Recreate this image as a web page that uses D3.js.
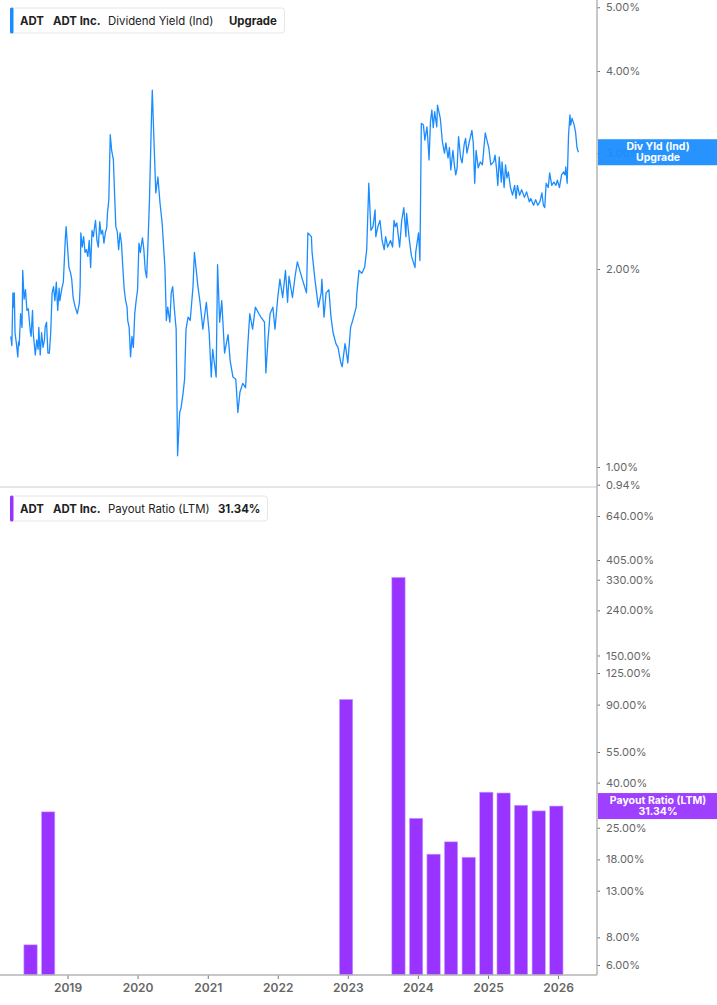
<!DOCTYPE html>
<html>
<head>
<meta charset="utf-8">
<script src="https://cdn.jsdelivr.net/npm/d3@7"></script>
<style>
  body { margin: 0; background: #fff; font-family: Inter, "Noto Sans", sans-serif; }
  svg { display: block; }
</style>
</head>
<body>
<script>
// Dividend yield (Ind) in %, as [decimal year, value], split by period
var yield2018 = [
  [2018.19, 1.58], [2018.205, 1.53], [2018.22, 1.84], [2018.23, 1.75], [2018.24, 1.84], [2018.25, 1.60],
  [2018.27, 1.54], [2018.29, 1.47], [2018.30, 1.55], [2018.31, 1.53], [2018.33, 1.71], [2018.35, 1.63],
  [2018.36, 1.99], [2018.38, 1.80], [2018.40, 1.86], [2018.42, 1.73], [2018.44, 1.74], [2018.47, 1.60],
  [2018.48, 1.58], [2018.50, 1.73], [2018.51, 1.60], [2018.54, 1.48], [2018.56, 1.56], [2018.58, 1.51],
  [2018.59, 1.63], [2018.61, 1.48], [2018.63, 1.60], [2018.65, 1.52], [2018.67, 1.56], [2018.68, 1.63],
  [2018.70, 1.66], [2018.72, 1.49], [2018.74, 1.49], [2018.76, 1.60], [2018.78, 1.84], [2018.80, 1.88],
  [2018.82, 1.79], [2018.84, 1.91], [2018.86, 1.73], [2018.88, 1.87], [2018.89, 1.79], [2018.92, 1.87],
  [2018.94, 1.91], [2018.97, 2.24], [2018.98, 2.32]
];
var yield2019 = [
  [2019.00, 2.16], [2019.02, 2.01], [2019.04, 1.98], [2019.06, 1.93], [2019.08, 1.81], [2019.11, 1.75],
  [2019.14, 1.71], [2019.17, 1.78], [2019.18, 1.88], [2019.19, 2.27], [2019.21, 2.16], [2019.23, 2.24],
  [2019.25, 2.12], [2019.27, 2.14], [2019.29, 2.09], [2019.31, 2.21], [2019.33, 2.01], [2019.35, 2.29],
  [2019.37, 2.24], [2019.38, 2.29], [2019.40, 2.37], [2019.42, 2.21], [2019.44, 2.16], [2019.46, 2.36],
  [2019.48, 2.26], [2019.50, 2.29], [2019.52, 2.19], [2019.54, 2.27], [2019.56, 2.31], [2019.57, 2.43],
  [2019.59, 2.55], [2019.61, 3.20], [2019.63, 3.03], [2019.655, 2.93], [2019.675, 2.55], [2019.69, 2.32],
  [2019.71, 2.28], [2019.73, 2.14], [2019.75, 2.27], [2019.77, 2.19], [2019.79, 2.01], [2019.81, 1.86],
  [2019.83, 1.79], [2019.85, 1.75], [2019.86, 1.67], [2019.88, 1.63], [2019.90, 1.47], [2019.92, 1.58],
  [2019.94, 1.52], [2019.96, 1.71], [2019.98, 1.79]
];
var yield2020 = [
  [2020.00, 1.86], [2020.02, 2.19], [2020.04, 2.12], [2020.05, 2.16], [2020.07, 2.23], [2020.09, 2.14],
  [2020.11, 1.99], [2020.13, 1.94], [2020.15, 2.21], [2020.17, 2.55], [2020.20, 3.45], [2020.21, 3.74],
  [2020.23, 3.22], [2020.26, 2.61], [2020.29, 2.76], [2020.32, 2.52], [2020.35, 2.35], [2020.39, 2.01],
  [2020.41, 1.67], [2020.43, 1.75], [2020.46, 1.66], [2020.48, 1.84], [2020.50, 1.88], [2020.53, 1.71],
  [2020.55, 1.62], [2020.57, 1.04], [2020.60, 1.21], [2020.62, 1.23], [2020.65, 1.30], [2020.67, 1.36],
  [2020.69, 1.62], [2020.72, 1.69], [2020.75, 1.67], [2020.79, 1.88], [2020.81, 2.12], [2020.86, 1.88],
  [2020.89, 1.78], [2020.93, 1.62], [2020.98, 1.78]
];
var yield2021 = [
  [2021.02, 1.60], [2021.05, 1.37], [2021.07, 1.51], [2021.12, 1.37], [2021.14, 2.03], [2021.17, 1.66],
  [2021.20, 1.79], [2021.24, 1.49], [2021.29, 1.59], [2021.32, 1.45], [2021.36, 1.37], [2021.40, 1.36],
  [2021.43, 1.21], [2021.46, 1.30], [2021.50, 1.34], [2021.54, 1.32], [2021.57, 1.52], [2021.60, 1.71],
  [2021.64, 1.62], [2021.68, 1.75], [2021.73, 1.71], [2021.76, 1.69], [2021.81, 1.66], [2021.83, 1.39],
  [2021.86, 1.56], [2021.89, 1.71], [2021.93, 1.75], [2021.96, 1.62]
];
var yield2022 = [
  [2022.00, 1.81], [2022.03, 1.93], [2022.07, 1.81], [2022.11, 1.99], [2022.14, 1.78], [2022.16, 1.95],
  [2022.21, 1.81], [2022.25, 1.96], [2022.28, 2.05], [2022.35, 1.93], [2022.41, 1.84], [2022.43, 2.27],
  [2022.48, 2.24], [2022.49, 2.12], [2022.53, 1.93], [2022.58, 1.75], [2022.62, 1.84], [2022.63, 1.93],
  [2022.66, 1.69], [2022.69, 1.84], [2022.73, 1.86], [2022.76, 1.69], [2022.79, 1.60], [2022.83, 1.54],
  [2022.86, 1.52], [2022.90, 1.44], [2022.92, 1.42], [2022.96, 1.54], [2022.97, 1.52]
];
var yield2023 = [
  [2023.00, 1.44], [2023.04, 1.63], [2023.07, 1.67], [2023.12, 1.75], [2023.13, 1.84], [2023.16, 1.99],
  [2023.20, 1.97], [2023.24, 2.01], [2023.27, 2.14], [2023.30, 2.70], [2023.33, 2.29], [2023.36, 2.32],
  [2023.39, 2.46], [2023.40, 2.24], [2023.43, 2.32], [2023.46, 2.37], [2023.49, 2.21], [2023.52, 2.14],
  [2023.54, 2.24], [2023.57, 2.16], [2023.61, 2.21], [2023.64, 2.16], [2023.66, 2.37], [2023.68, 2.32],
  [2023.70, 2.35], [2023.74, 2.16], [2023.77, 2.37], [2023.80, 2.48], [2023.83, 2.24], [2023.84, 2.43],
  [2023.88, 2.21], [2023.91, 2.09], [2023.96, 2.01], [2023.97, 2.12]
];
var yield2024 = [
  [2024.01, 2.27], [2024.03, 2.06], [2024.05, 3.33], [2024.08, 3.31], [2024.10, 3.14], [2024.13, 3.29],
  [2024.15, 3.06], [2024.16, 2.93], [2024.18, 3.35], [2024.20, 3.49], [2024.22, 3.28], [2024.24, 3.47],
  [2024.27, 3.29], [2024.28, 3.55], [2024.32, 3.39], [2024.35, 3.12], [2024.38, 3.00], [2024.40, 3.11],
  [2024.43, 2.95], [2024.45, 3.06], [2024.47, 2.83], [2024.50, 3.03], [2024.52, 2.88], [2024.54, 2.78],
  [2024.56, 2.85], [2024.58, 3.18], [2024.61, 2.95], [2024.63, 2.90], [2024.66, 3.09], [2024.68, 3.16],
  [2024.70, 3.00], [2024.73, 3.11], [2024.77, 3.25], [2024.79, 3.11], [2024.81, 2.70], [2024.83, 3.03],
  [2024.86, 2.85], [2024.89, 2.91], [2024.92, 2.88], [2024.96, 3.22], [2024.99, 3.12]
];
var yield2025 = [
  [2025.01, 3.06], [2025.04, 2.88], [2025.08, 2.91], [2025.10, 2.98], [2025.12, 2.85], [2025.14, 2.68],
  [2025.16, 2.96], [2025.19, 2.71], [2025.20, 2.91], [2025.23, 2.66], [2025.25, 2.88], [2025.27, 2.75],
  [2025.29, 2.81], [2025.32, 2.66], [2025.35, 2.59], [2025.38, 2.68], [2025.40, 2.56], [2025.42, 2.68],
  [2025.45, 2.59], [2025.48, 2.64], [2025.52, 2.57], [2025.55, 2.62], [2025.59, 2.53], [2025.61, 2.56],
  [2025.65, 2.50], [2025.68, 2.55], [2025.71, 2.50], [2025.74, 2.53], [2025.77, 2.61], [2025.79, 2.50],
  [2025.81, 2.48], [2025.83, 2.70], [2025.86, 2.66], [2025.88, 2.80], [2025.91, 2.68], [2025.94, 2.71],
  [2025.97, 2.68], [2025.99, 2.73]
];
var yield2026 = [
  [2026.02, 2.66], [2026.05, 2.78], [2026.08, 2.81], [2026.10, 2.78], [2026.11, 2.86], [2026.13, 2.70],
  [2026.15, 3.20], [2026.17, 3.43], [2026.18, 3.31], [2026.20, 3.39], [2026.23, 3.31], [2026.25, 3.23],
  [2026.27, 3.06], [2026.29, 3.01]
];

// Payout ratio (LTM), in %, by fiscal quarter end
var payoutDates = [
  "2018-06-30", "2018-09-30", "2022-12-31", "2023-09-30", "2023-12-31", "2024-03-31",
  "2024-06-30", "2024-09-30", "2024-12-31", "2025-03-31", "2025-06-30", "2025-09-30", "2025-12-31"
];
var payoutValues = [7.4, 29.5, 95, 338, 27.6, 19.0, 21.6, 18.4, 36.2, 35.9, 31.6, 29.8, 31.34];

var yieldTicks = [0.94, 1, 2, 3, 4, 5];
var payoutTicks = [6, 8, 13, 18, 25, 40, 55, 90, 125, 150, 240, 330, 405, 640];
var yearTicks = [2019, 2020, 2021, 2022, 2023, 2024, 2025, 2026];

var width = 717, height = 1005;
var plotRight = 597;
var topPanel = {top: 0, bottom: 487};
var botPanel = {top: 488, bottom: 975};
var blue = "#1a8cff", purple = "#9933ff";

function fromDecimalYear(t) {
  var y = Math.floor(t);
  var start = new Date(y, 0, 1), end = new Date(y + 1, 0, 1);
  return new Date(+start + (t - y) * (end - start));
}
var parseDate = d3.timeParse("%Y-%m-%d");

var yieldData = [].concat(yield2018, yield2019, yield2020, yield2021, yield2022,
                          yield2023, yield2024, yield2025, yield2026)
  .map(function(p) { return {date: fromDecimalYear(p[0]), value: p[1]}; });
var lastYield = yieldData[yieldData.length - 1].value;
var payoutData = payoutDates.map(function(d, i) {
  return {date: parseDate(d), value: payoutValues[i]};
});
var lastPayout = payoutValues[payoutValues.length - 1];

var svg = d3.select("body").append("svg")
    .attr("width", width)
    .attr("height", height);

// shared time axis
var x = d3.scaleTime()
    .domain([new Date(2018, 0, 14), new Date(2026, 6, 23)])
    .range([0, plotRight]);

// top panel scale (log)
var yTop = d3.scaleLog()
    .domain([1, 4])
    .range([467, 71]);

// bottom panel scale (log)
var yBot = d3.scaleLog()
    .domain([6, 640])
    .range([965, 516]);

// panel separator
svg.append("line")
    .attr("x1", 0).attr("x2", plotRight)
    .attr("y1", topPanel.bottom).attr("y2", topPanel.bottom)
    .attr("stroke", "#dcdcdc").attr("stroke-width", 1.5);

// bars
var quarterPx = x(new Date(2025, 3, 1)) - x(new Date(2025, 0, 1));
var barW = quarterPx * 0.77;
svg.append("g").selectAll("rect")
    .data(payoutData)
  .enter().append("rect")
    .attr("x", function(d) { return x(d.date) - barW / 2 - 1.5; })
    .attr("y", function(d) { return yBot(d.value); })
    .attr("width", barW)
    .attr("height", function(d) { return botPanel.bottom - yBot(d.value); })
    .attr("fill", purple)
    .attr("stroke", "#c9a3ff")
    .attr("stroke-width", 0.6);

// yield line
var line = d3.line()
    .x(function(d) { return x(d.date); })
    .y(function(d) { return yTop(d.value); });
svg.append("path")
    .datum(yieldData)
    .attr("d", line)
    .attr("fill", "none")
    .attr("stroke", blue)
    .attr("stroke-width", 1.3)
    .attr("stroke-linejoin", "round");

// right axes
var fmtPct = function(d) { return d.toFixed(2) + "%"; };
var axisTop = d3.axisRight(yTop).tickValues(yieldTicks).tickFormat(fmtPct).tickSize(3).tickPadding(6);
var axisBot = d3.axisRight(yBot).tickValues(payoutTicks).tickFormat(fmtPct).tickSize(3).tickPadding(6);

[axisTop, axisBot].forEach(function(ax) {
  var g = svg.append("g")
      .attr("transform", "translate(" + plotRight + ",0)")
      .call(ax);
  g.select(".domain").remove();
  g.selectAll(".tick line").attr("stroke", "#777");
  g.selectAll(".tick text")
      .attr("fill", "#666")
      .style("font-family", "Inter, sans-serif")
      .style("font-size", "11px");
});

// vertical axis line and bottom axis line
svg.append("line")
    .attr("x1", plotRight).attr("x2", plotRight)
    .attr("y1", 0).attr("y2", botPanel.bottom)
    .attr("stroke", "#b5b5b5").attr("stroke-width", 1.5);

var xAxis = d3.axisBottom(x)
    .tickValues(yearTicks.map(function(y) { return new Date(y, 0, 1); }))
    .tickFormat(d3.timeFormat("%Y"))
    .tickSize(4).tickPadding(4);
var gx = svg.append("g")
    .attr("transform", "translate(0," + botPanel.bottom + ")")
    .call(xAxis);
gx.select(".domain").remove();
gx.selectAll(".tick line").attr("stroke", "#777");
gx.selectAll(".tick text")
    .attr("fill", "#666")
    .style("font-family", "Inter, sans-serif")
    .style("font-size", "12px")
    .style("font-weight", "600");
svg.append("line")
    .attr("x1", 0).attr("x2", plotRight)
    .attr("y1", botPanel.bottom).attr("y2", botPanel.bottom)
    .attr("stroke", "#b5b5b5").attr("stroke-width", 1.5);

// last value labels (slightly see-through, the tick under them shows faintly)
function lastLabel(yPos, color, lines) {
  var g = svg.append("g");
  g.append("rect")
      .attr("x", plotRight + 1).attr("y", yPos - 13)
      .attr("width", width - plotRight - 1).attr("height", 26)
      .attr("fill", color)
      .attr("fill-opacity", 0.94);
  g.selectAll("text")
      .data(lines)
    .enter().append("text")
      .attr("x", (plotRight + width) / 2 + 1)
      .attr("y", function(d, i) { return yPos - 2.5 + i * 11; })
      .attr("text-anchor", "middle")
      .attr("fill", "#fff")
      .style("font-family", "Inter, sans-serif")
      .style("font-size", "10.5px")
      .style("font-weight", "700")
      .text(function(d) { return d; });
}
lastLabel(yTop(lastYield), blue, ["Div Yld (Ind)", "Upgrade"]);
lastLabel(yBot(lastPayout), purple, ["Payout Ratio (LTM)", lastPayout.toFixed(2) + "%"]);

// legends
function legend(yPos, boxW, color, parts) {
  var g = svg.append("g").attr("transform", "translate(10," + yPos + ")");
  g.append("rect")
      .attr("x", 0.5).attr("y", 0.5).attr("width", boxW).attr("height", 25).attr("rx", 3)
      .attr("fill", "#fff").attr("stroke", "#e6e6e6");
  g.append("rect")
      .attr("x", 0).attr("y", 0).attr("width", 3.5).attr("height", 26).attr("rx", 1.5)
      .attr("fill", color);
  parts.forEach(function(p) {
    g.append("text")
        .attr("x", p.x).attr("y", 17.5)
        .attr("fill", "#222")
        .style("font-family", "Inter, sans-serif")
        .style("font-size", "11.4px")
        .style("font-weight", p.bold ? "700" : "400")
        .text(p.text);
  });
}
legend(7.5, 274, blue, [
  {text: "ADT", bold: true, x: 10}, {text: "ADT Inc.", bold: true, x: 43},
  {text: "Dividend Yield (Ind)", bold: false, x: 98}, {text: "Upgrade", bold: true, x: 219}
]);
legend(495.5, 257, purple, [
  {text: "ADT", bold: true, x: 10}, {text: "ADT Inc.", bold: true, x: 43},
  {text: "Payout Ratio (LTM)", bold: false, x: 98}, {text: lastPayout.toFixed(2) + "%", bold: true, x: 208}
]);
</script>
</body>
</html>
